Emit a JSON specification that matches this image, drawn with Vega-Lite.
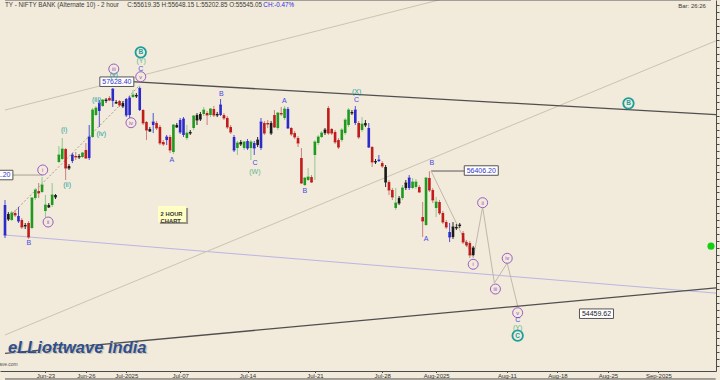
{
"$schema":"https://vega.github.io/schema/vega-lite/v6.json",
"width":716,"height":371,"autosize":"none",
"padding":{"left":0,"top":0,"right":4,"bottom":9},
"background":"#F2EADA",
"config":{"view":{"stroke":null},"font":"Liberation Sans",
 "axisX":{"domainColor":"#4a4a4a","tickColor":"#4a4a4a","tickSize":1.5,"labelPadding":0,"labelFontSize":6,"labelColor":"#333333","labelFlush":false,"labelOverlap":false,"grid":false},
 "axisY":{"domainColor":"#4a4a4a","tickColor":"#4a4a4a","tickSize":3,"grid":false}},
"datasets":{
"candles":[
{"i":-12,"k":"b","o":55918,"h":55991,"l":55442,"c":55485},
{"i":-11,"k":"k","o":55789,"h":55817,"l":55688,"c":55716},
{"i":-10,"k":"g","o":55702,"h":55832,"l":55688,"c":55803},
{"i":-9,"k":"r","o":55803,"h":55846,"l":55745,"c":55774},
{"i":-8,"k":"b","o":55760,"h":55890,"l":55659,"c":55688},
{"i":-7,"k":"r","o":55702,"h":55731,"l":55572,"c":55601},
{"i":-6,"k":"k","o":55630,"h":55659,"l":55572,"c":55615},
{"i":-5,"k":"r","o":55659,"h":55688,"l":55428,"c":55457},
{"i":-4,"k":"g","o":55587,"h":56034,"l":55572,"c":56019},
{"i":-3,"k":"g","o":56019,"h":56164,"l":55991,"c":56135},
{"i":-2,"k":"r","o":56120,"h":56236,"l":56019,"c":56092},
{"i":-1,"k":"g","o":56106,"h":56322,"l":56092,"c":56207},
{"i":0,"k":"g","o":55832,"h":56063,"l":55745,"c":55918},
{"i":1,"k":"k","o":55918,"h":55947,"l":55875,"c":55890},
{"i":2,"k":"g","o":55918,"h":56236,"l":55890,"c":56063},
{"i":3,"k":"k","o":56063,"h":56077,"l":56005,"c":56034},
{"i":4,"k":"g","o":56539,"h":56770,"l":56524,"c":56640},
{"i":5,"k":"g","o":56582,"h":56885,"l":56568,"c":56726},
{"i":6,"k":"r","o":56726,"h":56741,"l":56279,"c":56452},
{"i":7,"k":"k","o":56481,"h":56510,"l":56424,"c":56452},
{"i":8,"k":"b","o":56553,"h":56669,"l":56524,"c":56640},
{"i":9,"k":"r","o":56626,"h":56683,"l":56568,"c":56611},
{"i":10,"k":"k","o":56626,"h":56654,"l":56582,"c":56611},
{"i":11,"k":"g","o":56611,"h":56683,"l":56597,"c":56669},
{"i":12,"k":"r","o":56712,"h":56813,"l":56582,"c":56597},
{"i":13,"k":"b","o":56597,"h":57073,"l":56568,"c":56900},
{"i":14,"k":"g","o":56900,"h":57318,"l":56885,"c":57289},
{"i":15,"k":"g","o":57217,"h":57347,"l":57203,"c":57318},
{"i":16,"k":"b","o":57275,"h":57434,"l":57044,"c":57390},
{"i":17,"k":"g","o":57347,"h":57448,"l":57333,"c":57434},
{"i":18,"k":"k","o":57419,"h":57463,"l":57390,"c":57434},
{"i":19,"k":"r","o":57463,"h":57491,"l":57419,"c":57434},
{"i":20,"k":"b","o":57419,"h":57607,"l":57333,"c":57590},
{"i":21,"k":"k","o":57405,"h":57434,"l":57376,"c":57390},
{"i":22,"k":"r","o":57419,"h":57434,"l":57333,"c":57362},
{"i":23,"k":"k","o":57390,"h":57419,"l":57318,"c":57347},
{"i":24,"k":"b","o":57448,"h":57463,"l":57188,"c":57217},
{"i":25,"k":"b","o":57217,"h":57491,"l":57174,"c":57463},
{"i":26,"k":"g","o":57477,"h":57578,"l":57463,"c":57506},
{"i":27,"k":"k","o":57506,"h":57535,"l":57463,"c":57491},
{"i":28,"k":"b","o":57289,"h":57628,"l":57275,"c":57600},
{"i":29,"k":"r","o":57289,"h":57304,"l":57073,"c":57102},
{"i":30,"k":"r","o":57116,"h":57131,"l":56856,"c":57001},
{"i":31,"k":"k","o":57015,"h":57044,"l":56972,"c":56986},
{"i":32,"k":"b","o":57073,"h":57246,"l":56957,"c":57116},
{"i":33,"k":"r","o":57102,"h":57131,"l":57001,"c":57030},
{"i":34,"k":"r","o":57044,"h":57073,"l":56784,"c":56813},
{"i":35,"k":"r","o":56828,"h":56856,"l":56770,"c":56799},
{"i":36,"k":"b","o":56856,"h":56929,"l":56784,"c":56900},
{"i":37,"k":"r","o":56900,"h":56929,"l":56669,"c":56712},
{"i":38,"k":"g","o":56683,"h":57087,"l":56654,"c":57073},
{"i":39,"k":"k","o":57073,"h":57102,"l":57030,"c":57044},
{"i":40,"k":"b","o":57145,"h":57174,"l":56943,"c":56972},
{"i":41,"k":"b","o":56929,"h":57188,"l":56900,"c":57159},
{"i":42,"k":"g","o":56885,"h":57073,"l":56856,"c":56957},
{"i":43,"k":"k","o":56972,"h":57001,"l":56929,"c":56957},
{"i":44,"k":"g","o":57030,"h":57217,"l":57001,"c":57203},
{"i":45,"k":"k","o":57217,"h":57246,"l":57073,"c":57145},
{"i":46,"k":"k","o":57232,"h":57261,"l":57131,"c":57159},
{"i":47,"k":"g","o":57232,"h":57333,"l":57203,"c":57289},
{"i":48,"k":"r","o":57246,"h":57275,"l":57073,"c":57217},
{"i":49,"k":"g","o":57217,"h":57318,"l":57188,"c":57304},
{"i":50,"k":"r","o":57304,"h":57347,"l":57188,"c":57217},
{"i":51,"k":"k","o":57232,"h":57261,"l":57188,"c":57217},
{"i":52,"k":"b","o":57217,"h":57448,"l":57203,"c":57362},
{"i":53,"k":"r","o":57217,"h":57246,"l":57145,"c":57174},
{"i":54,"k":"r","o":57174,"h":57203,"l":57015,"c":57044},
{"i":55,"k":"r","o":57044,"h":57073,"l":56943,"c":56972},
{"i":56,"k":"b","o":56900,"h":56929,"l":56683,"c":56712},
{"i":57,"k":"g","o":56741,"h":56842,"l":56640,"c":56813},
{"i":58,"k":"k","o":56828,"h":56856,"l":56770,"c":56799},
{"i":59,"k":"g","o":56741,"h":56842,"l":56712,"c":56828},
{"i":60,"k":"b","o":56842,"h":56871,"l":56712,"c":56741},
{"i":61,"k":"g","o":56741,"h":56856,"l":56568,"c":56828},
{"i":62,"k":"b","o":56813,"h":56842,"l":56640,"c":56741},
{"i":63,"k":"k","o":56784,"h":56900,"l":56755,"c":56856},
{"i":64,"k":"b","o":56741,"h":57174,"l":56712,"c":57116},
{"i":65,"k":"r","o":57102,"h":57131,"l":56929,"c":56957},
{"i":66,"k":"r","o":57102,"h":57145,"l":57030,"c":57087},
{"i":67,"k":"k","o":57102,"h":57131,"l":56929,"c":56957},
{"i":68,"k":"r","o":57217,"h":57289,"l":57030,"c":57044},
{"i":69,"k":"g","o":57030,"h":57261,"l":57001,"c":57246},
{"i":70,"k":"r","o":57246,"h":57333,"l":57203,"c":57232},
{"i":71,"k":"g","o":57174,"h":57347,"l":57145,"c":57304},
{"i":72,"k":"b","o":57304,"h":57333,"l":57015,"c":57030},
{"i":73,"k":"r","o":57030,"h":57044,"l":56914,"c":56943},
{"i":74,"k":"r","o":56957,"h":56986,"l":56871,"c":56900},
{"i":75,"k":"r","o":56885,"h":56914,"l":56755,"c":56813},
{"i":76,"k":"r","o":56597,"h":56741,"l":56222,"c":56236},
{"i":77,"k":"g","o":56207,"h":56322,"l":56193,"c":56308},
{"i":78,"k":"g","o":56279,"h":56452,"l":56265,"c":56322},
{"i":79,"k":"r","o":56322,"h":56351,"l":56236,"c":56250},
{"i":80,"k":"g","o":56640,"h":56856,"l":56279,"c":56828},
{"i":81,"k":"g","o":56813,"h":56929,"l":56784,"c":56900},
{"i":82,"k":"g","o":56900,"h":56986,"l":56885,"c":56957},
{"i":83,"k":"k","o":56957,"h":57030,"l":56929,"c":57001},
{"i":84,"k":"r","o":57318,"h":57347,"l":56929,"c":56957},
{"i":85,"k":"r","o":57015,"h":57030,"l":56929,"c":56957},
{"i":86,"k":"r","o":56972,"h":57001,"l":56799,"c":56828},
{"i":87,"k":"r","o":56856,"h":56885,"l":56726,"c":56755},
{"i":88,"k":"g","o":56856,"h":57030,"l":56828,"c":57001},
{"i":89,"k":"g","o":56957,"h":57174,"l":56929,"c":57145},
{"i":90,"k":"g","o":57073,"h":57318,"l":57044,"c":57289},
{"i":91,"k":"k","o":57261,"h":57289,"l":57217,"c":57246},
{"i":92,"k":"b","o":57102,"h":57347,"l":57073,"c":57289},
{"i":93,"k":"r","o":57102,"h":57131,"l":56871,"c":56900},
{"i":94,"k":"g","o":57001,"h":57188,"l":56972,"c":57087},
{"i":95,"k":"k","o":57102,"h":57145,"l":57044,"c":57073},
{"i":96,"k":"b","o":57030,"h":57102,"l":56741,"c":56755},
{"i":97,"k":"r","o":56755,"h":56770,"l":56467,"c":56539},
{"i":98,"k":"k","o":56553,"h":56582,"l":56510,"c":56539},
{"i":99,"k":"b","o":56553,"h":56640,"l":56539,"c":56568},
{"i":100,"k":"r","o":56524,"h":56553,"l":56452,"c":56481},
{"i":101,"k":"k","o":56467,"h":56496,"l":56178,"c":56250},
{"i":102,"k":"r","o":56250,"h":56279,"l":56063,"c":56135},
{"i":103,"k":"r","o":56135,"h":56164,"l":55991,"c":56034},
{"i":104,"k":"g","o":55875,"h":56164,"l":55846,"c":55947},
{"i":105,"k":"k","o":56019,"h":56048,"l":55918,"c":55947},
{"i":106,"k":"g","o":56019,"h":56207,"l":55991,"c":56164},
{"i":107,"k":"k","o":56164,"h":56279,"l":56135,"c":56236},
{"i":108,"k":"b","o":56164,"h":56351,"l":56135,"c":56308},
{"i":109,"k":"g","o":56164,"h":56308,"l":56149,"c":56250},
{"i":110,"k":"g","o":56178,"h":56294,"l":56149,"c":56250},
{"i":111,"k":"r","o":56178,"h":56207,"l":56092,"c":56106},
{"i":112,"k":"r","o":55745,"h":55962,"l":55457,"c":55688},
{"i":113,"k":"g","o":55630,"h":56322,"l":55615,"c":56308},
{"i":114,"k":"r","o":56308,"h":56406,"l":56106,"c":56135},
{"i":115,"k":"r","o":56135,"h":56164,"l":55947,"c":55991},
{"i":116,"k":"g","o":55875,"h":56034,"l":55745,"c":55962},
{"i":117,"k":"r","o":55962,"h":55991,"l":55774,"c":55803},
{"i":118,"k":"r","o":55803,"h":55832,"l":55644,"c":55673},
{"i":119,"k":"r","o":55673,"h":55702,"l":55572,"c":55601},
{"i":120,"k":"b","o":55529,"h":55659,"l":55384,"c":55457},
{"i":121,"k":"k","o":55457,"h":55673,"l":55428,"c":55601},
{"i":122,"k":"k","o":55601,"h":55644,"l":55558,"c":55587},
{"i":123,"k":"k","o":55615,"h":55659,"l":55587,"c":55630},
{"i":124,"k":"r","o":55514,"h":55543,"l":55355,"c":55384},
{"i":125,"k":"r","o":55384,"h":55413,"l":55312,"c":55341},
{"i":126,"k":"r","o":55370,"h":55399,"l":55154,"c":55197},
{"i":127,"k":"k","o":55197,"h":55327,"l":55183,"c":55298}
],
"darklines":[
{"id":"u","i":25.5,"p":57698},{"id":"u","i":200,"p":57220},
{"id":"lo","i":-12,"p":53777},{"id":"lo","i":200,"p":54727}
],
"lines":[
{"id":"lav","lk":"lav","i":-12,"p":55485},{"id":"lav","lk":"lav","i":200,"p":54643},
{"id":"g1","lk":"gray","i":-12,"p":57289},{"id":"g1","lk":"gray","i":128.5,"p":59021},
{"id":"g2","lk":"gray","i":-12,"p":54043},{"id":"g2","lk":"gray","i":200,"p":58307},
{"id":"c1","lk":"conn","i":-13,"p":56351},{"id":"c1","lk":"conn","i":-0.8,"p":56351},
{"id":"c2","lk":"conn2","i":114.5,"p":56409},{"id":"c2","lk":"conn2","i":124.7,"p":56409},
{"id":"w","lk":"wave","i":114.5,"p":56409},{"id":"w","lk":"wave","i":127.05,"p":55154},
{"id":"w","lk":"wave","i":129.8,"p":55890},{"id":"w","lk":"wave","i":133.3,"p":54793},
{"id":"w","lk":"wave","i":137.1,"p":55081},{"id":"w","lk":"wave","i":140.2,"p":54459.62}
],
"dotted":[{"i":-9.66,"p":55803},{"i":28.1,"p":57650}],
"boxes":[
{"t":"57628.40","i":21.2,"p":57698,"s":"blue"},
{"t":"56406.20","i":129.4,"p":56416,"s":"blue"},
{"t":"54459.62","i":163.6,"p":54350,"s":"black"},
{"t":"56351.20","i":-14.7,"p":56351,"s":"blue"}
],
"purple":[
{"t":"iii","i":20.3,"p":57881},{"t":"v","i":28.3,"p":57770},{"t":"iv","i":25.4,"p":57106},
{"t":"i","i":-0.8,"p":56424},{"t":"ii","i":0.8,"p":55673},
{"t":"i","i":127.0,"p":55063},{"t":"ii","i":129.8,"p":55952},{"t":"iii","i":133.6,"p":54706},
{"t":"iv","i":137.1,"p":55149},{"t":"v","i":140.2,"p":54364}
],
"tealc":[
{"t":"B","i":28.3,"p":58122},{"t":"C","i":140.2,"p":54033},{"t":"B","i":173.1,"p":57386}
],
"labels":[
{"t":"(Y)","i":28.4,"p":57996,"s":"green"},
{"t":"C","i":28.3,"p":57881,"s":"blue"},
{"t":"(v)","i":20.3,"p":57800,"s":"teal"},
{"t":"(iii)","i":15.2,"p":57434,"s":"teal"},
{"t":"(iv)","i":16.6,"p":56939,"s":"teal"},
{"t":"(i)","i":5.56,"p":57001,"s":"teal"},
{"t":"(ii)","i":6.44,"p":56207,"s":"teal"},
{"t":"B","i":-4.9,"p":55366,"s":"blue"},
{"t":"A","i":37.5,"p":56568,"s":"blue"},
{"t":"B","i":52.2,"p":57520,"s":"blue"},
{"t":"C","i":62.2,"p":56529,"s":"blue"},
{"t":"(W)","i":62.2,"p":56399,"s":"green"},
{"t":"A","i":70.9,"p":57424,"s":"blue"},
{"t":"B","i":77.0,"p":56125,"s":"blue"},
{"t":"(X)","i":92.4,"p":57554,"s":"teal"},
{"t":"C","i":92.4,"p":57434,"s":"blue"},
{"t":"B","i":114.7,"p":56520,"s":"blue"},
{"t":"A","i":113.0,"p":55424,"s":"blue"},
{"t":"C","i":140.2,"p":54259,"s":"blue"},
{"t":"(Y)","i":140.2,"p":54139,"s":"green"}
],
"header":[
{"t":"TY - NIFTY BANK (Alternate 10) - 2 hour","i":-12,"p":58804,"s":"hdr"},
{"t":"C:55619.35  H:55648.15  L:55202.85  O:55545.05","i":24.3,"p":58804,"s":"hdr"},
{"t":"CH:-0.47%","i":64.7,"p":58804,"s":"hdrblue"}
]
},
"encoding":{
 "x":{"field":"i","type":"quantitative","scale":{"domain":[-12,197.6],"nice":false,"zero":false},
   "axis":{"values":[0,12,24,40,60,80,100,116,137,152,167,182],"labelExpr":"['Jun-23','Jun-26','Jul-2025','Jul-07','Jul-14','Jul-21','Jul-28','Aug-2025','Aug-11','Aug-18','Aug-25','Sep-2025'][indexof([0,12,24,40,60,80,100,116,137,152,167,182], datum.value)]","title":null}},
 "y":{"field":"p","type":"quantitative","scale":{"domain":[53523,58877],"nice":false,"zero":false},
   "axis":{"orient":"right","labels":false,"tickCount":50,"title":null}}
},
"layer":[
{"data":{"name":"lines"},"mark":{"type":"line","clip":true,"strokeWidth":1},
 "encoding":{"detail":{"field":"id"},
 "stroke":{"field":"lk","type":"nominal","scale":{"domain":["lav","gray","conn","conn2","wave"],"range":["#bab5e6","#cbc3b2","#a8a294","#5a5a5a","#bfb8a8"]},"legend":null}}},
{"data":{"name":"darklines"},"mark":{"type":"line","clip":true,"strokeWidth":1.3,"color":"#4f4f4f"},
 "encoding":{"detail":{"field":"id"}}},
{"data":{"name":"dotted"},"mark":{"type":"line","clip":true,"strokeWidth":1,"color":"#a39c8c","strokeDash":[2,2]}},
{"data":{"name":"candles"},"mark":{"type":"rule","clip":true,"strokeWidth":1},
 "encoding":{
 "y":{"field":"l","type":"quantitative","scale":{"domain":[53523,58877],"nice":false,"zero":false},"axis":{"orient":"right","labels":false,"tickCount":50,"title":null}},
 "y2":{"field":"h"},
 "stroke":{"field":"k","type":"nominal","scale":{"domain":["g","r","b","k"],"range":["#8dc98d","#c98080","#5050dc","#2a2a2a"]},"legend":null}}},
{"data":{"name":"candles"},"mark":{"type":"bar","clip":true,"width":2.6},
 "encoding":{
 "y":{"field":"o","type":"quantitative","scale":{"domain":[53523,58877],"nice":false,"zero":false},"axis":{"orient":"right","labels":false,"tickCount":50,"title":null}},
 "y2":{"field":"c"},
 "fill":{"field":"k","type":"nominal","scale":{"domain":["g","r","b","k"],"range":["#1f9a1f","#c01c1c","#2b2bcc","#1a1a1a"]},"legend":null}}},
{"data":{"name":"candles"},"mark":{"type":"tick","clip":true,"orient":"horizontal","size":3,"thickness":1},
 "encoding":{
 "y":{"field":"c","type":"quantitative","scale":{"domain":[53523,58877],"nice":false,"zero":false},"axis":{"orient":"right","labels":false,"tickCount":50,"title":null}},
 "fill":{"field":"k","type":"nominal","scale":{"domain":["g","r","b","k"],"range":["#1f9a1f","#c01c1c","#2b2bcc","#1a1a1a"]},"legend":null}}},
{"data":{"name":"boxes"},"mark":{"type":"point","clip":true,"shape":"M-1,-0.28L1,-0.28L1,0.28L-1,0.28Z","size":1156,"filled":true,"fill":"#ffffff","stroke":"#555555","strokeWidth":1,"opacity":1}},
{"data":{"name":"boxes"},"mark":{"type":"text","clip":true,"fontSize":7,"baseline":"middle","align":"center"},
 "encoding":{"text":{"field":"t"},
 "color":{"field":"s","type":"nominal","scale":{"domain":["blue","black"],"range":["#3434cc","#222222"]},"legend":null}}},
{"data":{"name":"purple"},"mark":{"type":"point","clip":true,"shape":"circle","size":100,"filled":false,"stroke":"#9a5cc4","fill":"#F2EADA","fillOpacity":1,"strokeWidth":1,"opacity":1}},
{"data":{"name":"purple"},"mark":{"type":"text","clip":true,"fontSize":5.5,"baseline":"middle","align":"center","color":"#8a4cb8"},
 "encoding":{"text":{"field":"t"}}},
{"data":{"name":"tealc"},"mark":{"type":"point","clip":true,"shape":"circle","size":110,"filled":false,"stroke":"#1a9e9e","fill":"#F2EADA","fillOpacity":1,"strokeWidth":1.8,"opacity":1}},
{"data":{"name":"tealc"},"mark":{"type":"text","clip":true,"fontSize":6.5,"fontWeight":"bold","baseline":"middle","align":"center","color":"#1a9e9e"},
 "encoding":{"text":{"field":"t"}}},
{"data":{"name":"labels"},"mark":{"type":"text","clip":true,"fontSize":7,"baseline":"middle","align":"center"},
 "encoding":{"text":{"field":"t"},
 "color":{"field":"s","type":"nominal","scale":{"domain":["blue","teal","green"],"range":["#4848e6","#22a2a2","#5cb88c"]},"legend":null}}},
{"data":{"name":"header"},"mark":{"type":"text","fontSize":6.3,"baseline":"middle","align":"left"},
 "encoding":{"text":{"field":"t"},
 "color":{"field":"s","type":"nominal","scale":{"domain":["hdr","hdrblue"],"range":["#3a3a3a","#2a2ae0"]},"legend":null}}},
{"data":{"values":[{"t":"Bar: 26:26","i":196.1,"p":58790}]},"mark":{"type":"text","fontSize":6,"baseline":"middle","align":"right","color":"#3a3a3a"},
 "encoding":{"text":{"field":"t"}}},
{"data":{"values":[{"i":37.6,"p":55789}]},"mark":{"type":"point","shape":"M-0.857,-0.429L1.143,-0.429L1.143,0.714L-0.857,0.714Z","size":784,"filled":true,"color":"#9a9488","opacity":1}},
{"data":{"values":[{"i":37.6,"p":55789}]},"mark":{"type":"point","shape":"M-1,-0.571L1,-0.571L1,0.571L-1,0.571Z","size":784,"filled":true,"color":"#FFFFC4","opacity":1}},
{"data":{"values":[{"t":"2 HOUR\nCHART","i":34.2,"p":55789}]},"mark":{"type":"text","fontSize":5.8,"fontWeight":"bold","baseline":"middle","align":"left","lineBreak":"\n","lineHeight":7.5,"color":"#333333"},
 "encoding":{"text":{"field":"t"}}},
{"data":{"values":[{"t":"eLLiottwave india","i":-11.0,"p":53783}]},"mark":{"type":"text","fontSize":16.5,"fontWeight":"bold","fontStyle":"italic","baseline":"alphabetic","align":"left","color":"#c9c3b6","dx":1,"dy":1},
 "encoding":{"text":{"field":"t"}}},
{"data":{"values":[{"t":"eLLiottwave india","i":-11.1,"p":53783}]},"mark":{"type":"text","fontSize":16.5,"fontWeight":"bold","fontStyle":"italic","baseline":"alphabetic","align":"left","color":"#2f4f8c"},
 "encoding":{"text":{"field":"t"}}},
{"data":{"values":[{"t":"www.elliottwave.com","i":-8.2,"p":53624}]},"mark":{"type":"text","clip":true,"fontSize":5,"baseline":"middle","align":"right","color":"#555555"},
 "encoding":{"text":{"field":"t"}}},
{"data":{"values":[{"i":197.6,"p":55325}]},"mark":{"type":"point","shape":"circle","size":50,"filled":true,"color":"#10d010","opacity":1}},
{"data":{"values":[{"i":-12,"i2":197.6,"p":58877},{"i":-12,"i2":199,"p":53408}]},"mark":{"type":"rule","color":"#555555","strokeWidth":1},
 "encoding":{"x2":{"field":"i2"}}}
],
"resolve":{"scale":{"stroke":"independent","fill":"independent","color":"independent"}}
}
